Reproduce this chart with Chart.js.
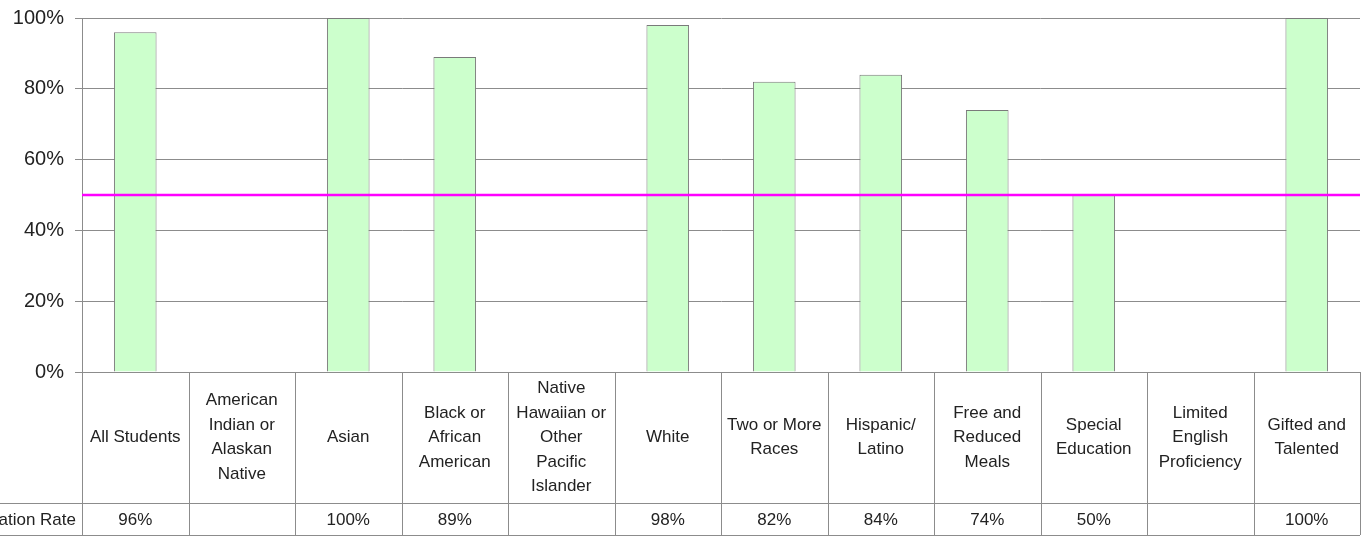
<!DOCTYPE html>
<html>
<head>
<meta charset="utf-8">
<script src="https://cdn.jsdelivr.net/npm/chart.js@4/dist/chart.umd.min.js"></script>
<style>
  html, body { margin: 0; padding: 0; background: #fff; }
  #wrap { width: 1364px; height: 537px; }
</style>
</head>
<body>
<div id="wrap"><canvas id="myChart" width="1364" height="537"></canvas></div>
<script>
var categories = [
  ["All Students"],
  ["American", "Indian or", "Alaskan", "Native"],
  ["Asian"],
  ["Black or", "African", "American"],
  ["Native", "Hawaiian or", "Other", "Pacific", "Islander"],
  ["White"],
  ["Two or More", "Races"],
  ["Hispanic/", "Latino"],
  ["Free and", "Reduced", "Meals"],
  ["Special", "Education"],
  ["Limited", "English", "Proficiency"],
  ["Gifted and", "Talented"]
];
var gradRate = [96, null, 100, 89, null, 98, 82, 84, 74, 50, null, 100];
var seriesName = "Graduation Rate";
var targetLine = [50];
var yTicks = [0, 20, 40, 60, 80, 100];

var font = "'Liberation Sans', Arial, sans-serif";
var lineCol = "#8c8c8c";

var tablePlugin = {
  id: "tablePlugin",
  afterDraw: function (chart) {
    var ctx = chart.ctx;
    var x = chart.scales.x;
    var y = chart.scales.y;
    var area = chart.chartArea;
    var top = area.bottom;
    var rowY = 503;
    var bottom = 535;
    var right = 1360;
    var step = x.getPixelForValue(1) - x.getPixelForValue(0);

    ctx.save();
    // target line
    ctx.strokeStyle = "#ff00ff";
    ctx.lineWidth = 2.5;
    var ty = y.getPixelForValue(targetLine[0]);
    ctx.beginPath();
    ctx.moveTo(area.left, ty);
    ctx.lineTo(right, ty);
    ctx.stroke();

    // table grid
    ctx.strokeStyle = lineCol;
    ctx.lineWidth = 1;
    ctx.beginPath();
    ctx.moveTo(area.left, top + 0.5); ctx.lineTo(right, top + 0.5);
    ctx.moveTo(0, rowY + 0.5); ctx.lineTo(right, rowY + 0.5);
    ctx.moveTo(0, bottom + 0.5); ctx.lineTo(right, bottom + 0.5);
    for (var i = 0; i <= categories.length; i++) {
      var bx = Math.round(x.getPixelForValue(i) - step / 2) + 0.5;
      ctx.moveTo(bx, top);
      ctx.lineTo(bx, bottom);
    }
    ctx.stroke();

    // labels
    ctx.fillStyle = "#222";
    ctx.font = "17px " + font;
    ctx.textAlign = "center";
    ctx.textBaseline = "middle";
    var lh = 24.5;
    var mid = (top + rowY) / 2;
    for (var i = 0; i < categories.length; i++) {
      var cx = x.getPixelForValue(i);
      var lines = categories[i];
      var y0 = mid - (lines.length - 1) * lh / 2;
      for (var j = 0; j < lines.length; j++) {
        ctx.fillText(lines[j], cx, y0 + j * lh);
      }
      if (gradRate[i] != null) {
        ctx.fillText(gradRate[i] + "%", cx, (rowY + bottom) / 2 + 1);
      }
    }
    ctx.textAlign = "right";
    ctx.fillText(seriesName, 76, (rowY + bottom) / 2 + 1);
    ctx.restore();
  }
};

new Chart("myChart", {
  type: "bar",
  data: {
    labels: categories,
    datasets: [
      {
        label: seriesName,
        data: gradRate,
        backgroundColor: "#ccffcc",
        borderColor: "#7a7a7a",
        borderWidth: 1,
        barPercentage: 0.4,
        categoryPercentage: 1.0
      }
    ]
  },
  options: {
    responsive: false,
    animation: false,
    events: [],
    layout: { padding: { top: 18, right: 4, left: 0, bottom: 0 } },
    plugins: {
      legend: { display: false },
      tooltip: { enabled: false }
    },
    scales: {
      x: {
        grid: { display: false },
        border: { display: false },
        ticks: { display: false },
        afterFit: function (s) { s.height = 165; }
      },
      y: {
        min: 0,
        max: 100,
        afterBuildTicks: function (s) {
          s.ticks = yTicks.map(function (v) { return { value: v }; });
        },
        afterFit: function (s) {
          s.width = 82;
          s.paddingTop = 0;
          s.paddingBottom = 0;
        },
        grid: { color: lineCol, lineWidth: 1, tickLength: 7, drawTicks: true },
        border: { color: lineCol, width: 1 },
        ticks: {
          padding: 11,
          color: "#222",
          font: { family: font, size: 20 },
          callback: function (v) { return v + "%"; }
        }
      }
    }
  },
  plugins: [tablePlugin]
});
</script>
</body>
</html>
